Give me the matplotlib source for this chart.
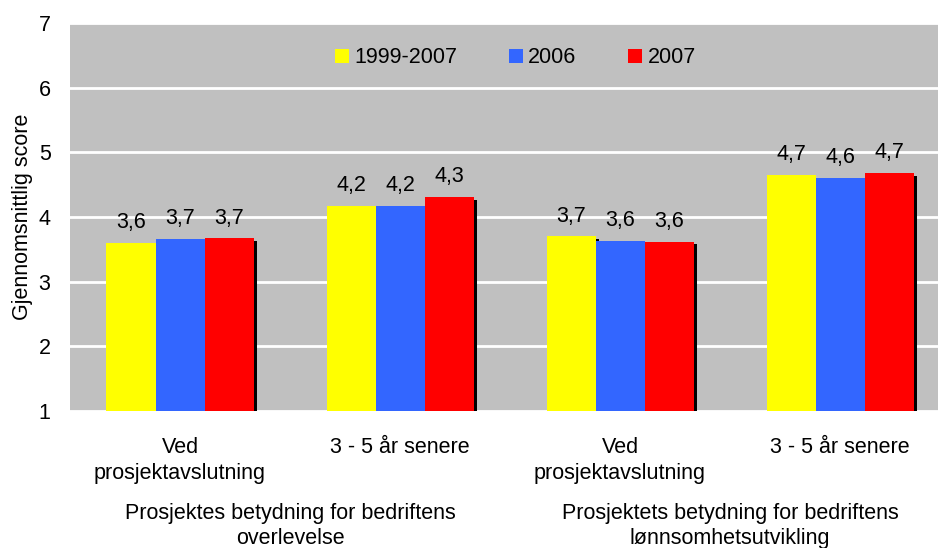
import matplotlib
matplotlib.use("Agg")
import matplotlib.pyplot as plt
import matplotlib.patheffects as pe
import numpy as np

plt.rcParams['font.family'] = ['Liberation Sans', 'DejaVu Sans']

categories = ["Ved\nprosjektavslutning", "3 - 5 år senere",
              "Ved\nprosjektavslutning", "3 - 5 år senere"]
groups = ["Prosjektes betydning for bedriftens\noverlevelse",
          "Prosjektets betydning for bedriftens\nlønnsomhetsutvikling"]
series_names = ["1999-2007", "2006", "2007"]
values_1999_2007 = [3.60, 4.17, 3.70, 4.65]
values_2006 = [3.66, 4.17, 3.63, 4.60]
values_2007 = [3.67, 4.31, 3.62, 4.68]
labels_1999_2007 = ["3,6", "4,2", "3,7", "4,7"]
labels_2006 = ["3,7", "4,2", "3,6", "4,6"]
labels_2007 = ["3,7", "4,3", "3,6", "4,7"]
yticks = [1, 2, 3, 4, 5, 6, 7]

colors = ["#FFFF00", "#3366FF", "#FF0000"]
series = [values_1999_2007, values_2006, values_2007]
series_labels = [labels_1999_2007, labels_2006, labels_2007]

FS = 15.5

fig = plt.figure(figsize=(9.38, 5.48), dpi=100)
ax = fig.add_axes([70/938, 137/548, 868/938, 388/548])
ax.set_facecolor("#C0C0C0")

x = np.arange(len(categories))
w = 49/220
shadow = [pe.SimplePatchShadow(offset=(2.2, -2.0), shadow_rgbFace='black', alpha=1.0), pe.Normal()]
for i, (vals, col, name, labs) in enumerate(zip(series, colors, series_names, series_labels)):
    pos = x + (i - 1) * w
    bars = ax.bar(pos, np.array(vals) - 1, bottom=1, width=w, color=col, label=name,
                  zorder=3, linewidth=0)
    for b in bars:
        b.set_path_effects(shadow)
    for p, v, t in zip(pos, vals, labs):
        ax.annotate(t, (p, v), xytext=(0, 7), textcoords='offset points',
                    ha='center', va='bottom', fontsize=FS, color='#000000', zorder=4)

ax.set_ylim(1, 7)
ax.set_xlim(-0.5, -0.5 + 868/220)
ax.set_yticks(yticks)
ax.set_yticklabels([str(t) for t in yticks], fontsize=FS)
ax.yaxis.grid(True, color='white', linewidth=2)
ax.set_axisbelow(True)
for s in ax.spines.values():
    s.set_visible(False)
ax.tick_params(axis='y', length=0, pad=14)
ax.tick_params(axis='x', length=0, pad=19)
ax.set_xticks(x)
ax.set_xticklabels(categories, fontsize=FS, linespacing=1.3)
ax.set_ylabel("Gjennomsnittlig score", fontsize=FS, labelpad=4)

for gi, g in enumerate(groups):
    xc = (x[2*gi] + x[2*gi+1]) / 2
    ax.annotate(g, (xc, 0), xycoords=('data', 'axes fraction'), xytext=(0, -66),
                textcoords='offset points', ha='center', va='top', fontsize=FS,
                linespacing=1.3, annotation_clip=False)

leg = ax.legend(loc='center', bbox_to_anchor=(0.513, 0.91), ncol=3, frameon=False,
                fontsize=FS, handlelength=0.65, handleheight=0.65, handletextpad=0.25,
                columnspacing=2.4)
for h in leg.legend_handles:
    h.set_path_effects([])

fig.savefig("out.png", dpi=100)
